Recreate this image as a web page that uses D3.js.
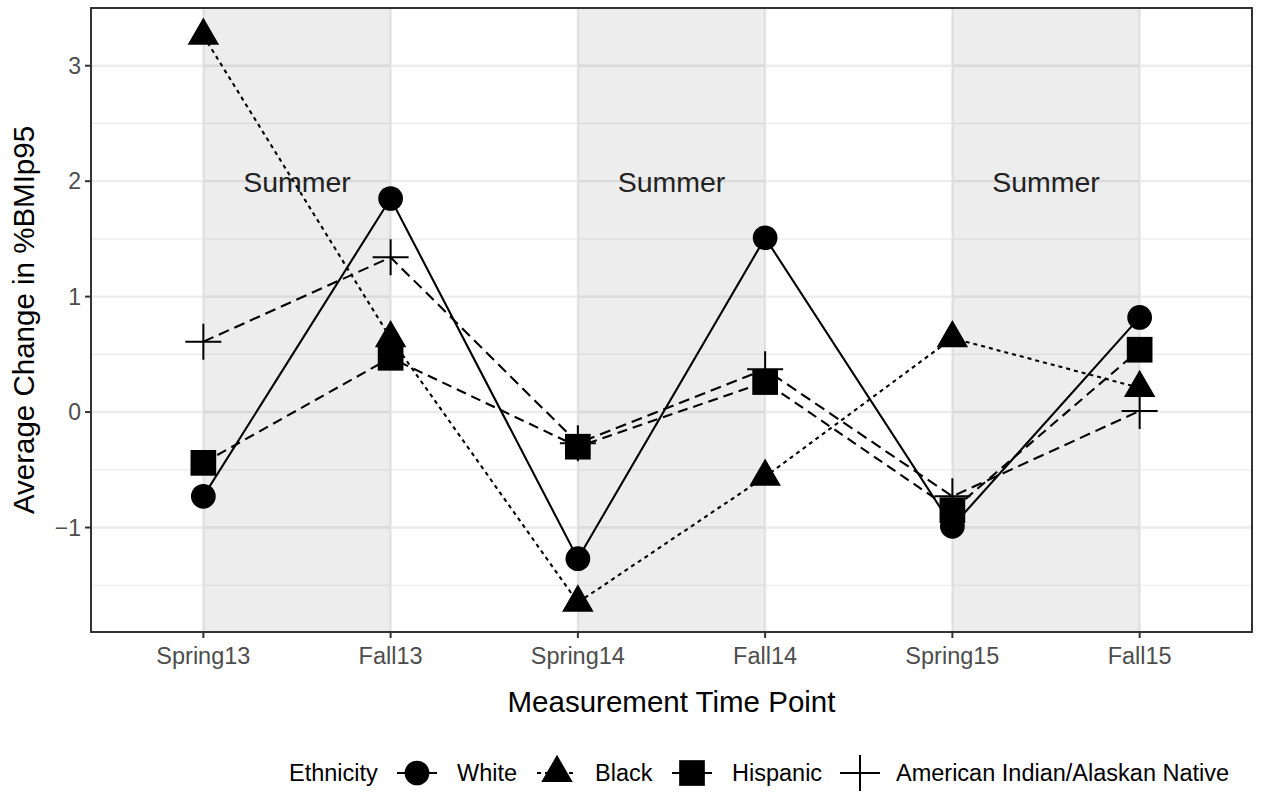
<!DOCTYPE html>
<html><head><meta charset="utf-8">
<script src="https://cdn.jsdelivr.net/npm/d3@7"></script>
<style>body{margin:0;background:#fff}svg text{font-family:"Liberation Sans",Arial,sans-serif}</style>
</head><body>
<svg id="c" width="1265" height="794"></svg>
<script>
const timePoints = ["Spring13","Fall13","Spring14","Fall14","Spring15","Fall15"];
const white    = [-0.73, 1.85, -1.27, 1.51, -0.99, 0.82];
const black    = [3.26, 0.64, -1.65, -0.56, 0.64, 0.21];
const hispanic = [-0.44, 0.47, -0.30, 0.26, -0.85, 0.54];
const aian     = [0.61, 1.34, -0.27, 0.37, -0.73, 0.01];
const seriesNames = ["White","Black","Hispanic","American Indian/Alaskan Native"];
const yTicks = [-1, 0, 1, 2, 3];
const summerBands = [["Spring13","Fall13"],["Spring14","Fall14"],["Spring15","Fall15"]];

const series = [
  {name: seriesNames[0], values: white, dash: null, shape: "circle"},
  {name: seriesNames[1], values: black, dash: "4,4", shape: "triangle"},
  {name: seriesNames[2], values: hispanic, dash: "10,6", shape: "square"},
  {name: seriesNames[3], values: aian, dash: "11,6", shape: "plus"}
];

const svg = d3.select("#c");
const L = 91, R = 1252, T = 8, B = 632;
const x = d3.scalePoint().domain(timePoints).range([L, R]).padding(0.6);
const y = d3.scaleLinear().domain([-1.905, 3.5]).range([B, T]);

// grid
const g = svg.append("g");
const minor = d3.range(-1.5, 3.6, 1);
g.selectAll(".mn").data(minor).join("line")
  .attr("x1", L).attr("x2", R).attr("y1", d=>y(d)).attr("y2", d=>y(d))
  .attr("stroke", "#ebebeb").attr("stroke-width", 1.2);
g.selectAll(".mj").data(yTicks).join("line")
  .attr("x1", L).attr("x2", R).attr("y1", d=>y(d)).attr("y2", d=>y(d))
  .attr("stroke", "#ebebeb").attr("stroke-width", 2.4);
g.selectAll(".vx").data(timePoints).join("line")
  .attr("x1", d=>x(d)).attr("x2", d=>x(d)).attr("y1", T).attr("y2", B)
  .attr("stroke", "#ebebeb").attr("stroke-width", 2.4);

// summer bands
svg.append("g").selectAll("rect").data(summerBands).join("rect")
  .attr("x", d=>x(d[0])).attr("width", d=>x(d[1])-x(d[0]))
  .attr("y", T).attr("height", B-T)
  .attr("fill", "#000").attr("fill-opacity", 0.072);

// Summer labels
svg.append("g").selectAll("text").data(summerBands).join("text")
  .attr("x", d=>(x(d[0])+x(d[1]))/2).attr("y", 192)
  .attr("text-anchor", "middle").attr("font-size", 28.5).attr("fill", "#222")
  .text("Summer");

// lines
const line = d3.line().x((d,i)=>x(timePoints[i])).y(d=>y(d));
svg.append("g").selectAll("path").data(series).join("path")
  .attr("d", d=>line(d.values)).attr("fill", "none")
  .attr("stroke", "#000").attr("stroke-width", 2.1)
  .attr("stroke-dasharray", d=>d.dash);

function drawShape(sel, shape) {
  if (shape === "plus") {
    sel.append("path").attr("d", "M-18,0H18M0,-18V18")
      .attr("stroke", "#000").attr("stroke-width", 2).attr("fill", "none");
  } else {
    const t = {circle: d3.symbolCircle, triangle: d3.symbolTriangle, square: d3.symbolSquare}[shape];
    const s = {circle: 480, triangle: 430, square: 660}[shape];
    sel.append("path").attr("d", d3.symbol().type(t).size(s)()).attr("fill", "#000");
  }
}
// points
series.forEach(s => {
  const pg = svg.append("g");
  s.values.forEach((v,i) => {
    const p = pg.append("g").attr("transform", `translate(${x(timePoints[i])},${y(v)})`);
    drawShape(p, s.shape);
  });
});

// panel border
svg.append("rect").attr("x", L).attr("y", T).attr("width", R-L).attr("height", B-T)
  .attr("fill", "none").attr("stroke", "#333").attr("stroke-width", 2);

// y axis
const ya = svg.append("g");
ya.selectAll("line").data(yTicks).join("line")
  .attr("x1", L-6).attr("x2", L).attr("y1", d=>y(d)).attr("y2", d=>y(d))
  .attr("stroke", "#333").attr("stroke-width", 2);
ya.selectAll("text").data(yTicks).join("text")
  .attr("x", L-10).attr("y", d=>y(d)+8).attr("text-anchor", "end")
  .attr("font-size", 23).attr("fill", "#4d4d4d")
  .text(d=> d < 0 ? "\u2212" + Math.abs(d) : d);
svg.append("text").attr("transform", `translate(34,${(T+B)/2}) rotate(-90)`)
  .attr("text-anchor", "middle").attr("font-size", 29.5).attr("fill", "#000")
  .text("Average Change in %BMIp95");

// x axis
const xa = svg.append("g");
xa.selectAll("line").data(timePoints).join("line")
  .attr("x1", d=>x(d)).attr("x2", d=>x(d)).attr("y1", B).attr("y2", B+6)
  .attr("stroke", "#333").attr("stroke-width", 2);
xa.selectAll("text").data(timePoints).join("text")
  .attr("x", d=>x(d)).attr("y", 664).attr("text-anchor", "middle")
  .attr("font-size", 23.5).attr("fill", "#4d4d4d").text(d=>d);
svg.append("text").attr("x", (L+R)/2).attr("y", 712).attr("text-anchor", "middle")
  .attr("font-size", 29.5).attr("fill", "#000").text("Measurement Time Point");

// legend
const lg = svg.append("g");
lg.append("text").attr("x", 289).attr("y", 781).attr("font-size", 23.5).attr("fill", "#000").text("Ethnicity");
const keyX = [417, 557, 692, 860];
const labX = [457, 595, 732, 896];
series.forEach((s,i) => {
  const k = lg.append("g").attr("transform", `translate(${keyX[i]},773)`);
  k.append("line").attr("x1", -20).attr("x2", 20).attr("stroke", "#000").attr("stroke-width", 2.1)
    .attr("stroke-dasharray", s.dash);
  drawShape(k, s.shape);
  lg.append("text").attr("x", labX[i]).attr("y", 781).attr("font-size", 23.5).attr("fill", "#000").text(s.name);
});
</script>
</body></html>
